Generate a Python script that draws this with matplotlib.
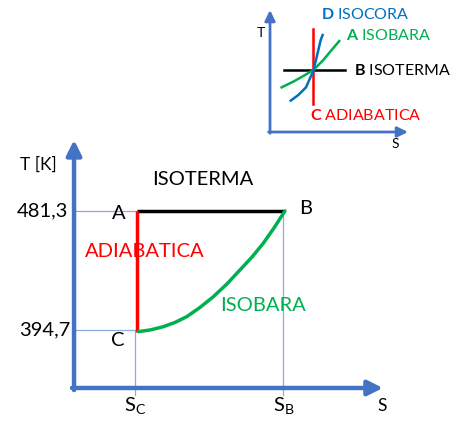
import numpy as np
import matplotlib.pyplot as plt

plt.rcParams['font.family'] = ['Lato', 'DejaVu Sans']
plt.rcParams['mathtext.fontset'] = 'custom'
plt.rcParams['mathtext.rm'] = 'Lato'
plt.rcParams['mathtext.bf'] = 'Lato:bold'

# colori
blu_assi = '#4472C4'
blu_guida = '#8FAADC'
verde = '#00B050'
rosso = '#FF0000'
blu_isocora = '#0070C0'

# stati del ciclo (diagramma T-S)
T_A = 481.3      # K
T_C = 394.7      # K
S_C = 1.0        # unita' arbitrarie
S_B = 2.0
S_adiab = [1.015, 1.015]
T_adiab = [393.5, 481.3]
S_isot = [1.015, 2.011]
T_isot = [481.3, 481.3]

# isobara C -> B
S_isob = [1.022, 1.101, 1.191, 1.270, 1.349, 1.438, 1.528, 1.620, 1.708, 1.789, 1.865, 1.937, 2.011]
T_isob = [393.5, 394.7, 397.1, 400.2, 404.4, 411.1, 418.9, 428.2, 438.4, 447.8, 457.8, 468.9, 481.3]

# assi del diagramma principale
S_orig, T_orig = 0.589, 352.5
S_tip, T_tip = 2.672, 533.0
T_fondo = 347.4

# inset schematico (unita' normalizzate)
u_isot = [0.10, 0.536]
v_isot = [0.508, 0.508]
u_adiab = [0.307, 0.307]
v_adiab = [0.23, 0.844]
u_isob = [0.083, 0.167, 0.238, 0.310, 0.381, 0.440, 0.495]
v_isob = [0.366, 0.413, 0.459, 0.508, 0.590, 0.672, 0.746]
u_isoc = [0.148, 0.202, 0.257, 0.310, 0.340, 0.362, 0.376]
v_isoc = [0.257, 0.303, 0.366, 0.503, 0.645, 0.754, 0.795]

fig = plt.figure(figsize=(4.51, 4.23), dpi=100)
ax = fig.add_axes([0, 0, 1, 1])
ax.set_xlim(0.0897, 3.131)
ax.set_ylim(327.02, 634.86)
ax.axis('off')

freccia = dict(arrowstyle='-|>,head_length=0.5,head_width=0.25', lw=3.2,
               color=blu_assi, shrinkA=0, shrinkB=0, mutation_scale=18)
ax.annotate('', xy=(S_tip, T_orig), xytext=(0.575, T_orig), arrowprops=freccia)
ax.annotate('', xy=(S_orig, T_tip), xytext=(S_orig, 351.0), arrowprops=freccia)

# linee guida
kw = dict(color=blu_guida, lw=0.9)
ax.plot([S_orig, S_adiab[0]], [T_A, T_A], **kw)
ax.plot([S_orig, S_C], [T_C, T_C], **kw)
ax.plot([S_C, S_C], [T_C, T_fondo], **kw)
ax.plot([S_B, S_B], [T_A, T_fondo], **kw)

ax.plot(S_isot, T_isot, color='black', lw=2.5, solid_capstyle='butt')
ax.plot(S_adiab, T_adiab, color=rosso, lw=2.5, solid_capstyle='butt')
ax.plot(S_isob, T_isob, color=verde, lw=2.5, solid_capstyle='round')

fs = 14.5
ax.text(0.346, 514.8, 'T [K]', fontsize=12.5, ha='center', va='center')
ax.text(0.548, T_A, '481,3', fontsize=fs, ha='right', va='center')
ax.text(0.562, T_C, '394,7', fontsize=fs, ha='right', va='center')
ax.text(0.889, 479.8, 'A', fontsize=fs, ha='center', va='center')
ax.text(2.153, 482.8, 'B', fontsize=fs, ha='center', va='center')
ax.text(0.885, 386.7, 'C', fontsize=fs, ha='center', va='center')
ax.text(1.455, 503.9, 'ISOTERMA', fontsize=fs, ha='center', va='center')
ax.text(1.067, 451.7, 'ADIABATICA', fontsize=fs, color=rosso, ha='center', va='center')
ax.text(1.860, 412.2, 'ISOBARA', fontsize=fs, color=verde, ha='center', va='center')
ax.text(S_C, 335.0, r'S$_\mathrm{C}$', fontsize=fs, ha='center', va='baseline')
ax.text(S_B, 335.0, r'S$_\mathrm{B}$', fontsize=fs, ha='center', va='baseline')
ax.text(2.669, 339.4, 'S', fontsize=12.5, ha='center', va='center')

# inset
ax2 = fig.add_axes([250 / 451, (423 - 150) / 423, 201 / 451, 150 / 423])
ax2.set_xlim(-0.1429, 1.293)
ax2.set_ylim(-0.1475, 1.082)
ax2.axis('off')

freccia2 = dict(arrowstyle='-|>,head_length=0.45,head_width=0.22', lw=2.0,
                color=blu_assi, shrinkA=0, shrinkB=0, mutation_scale=14)
ax2.annotate('', xy=(0.986, 0), xytext=(-0.01, 0), arrowprops=freccia2)
ax2.annotate('', xy=(0, 1.0), xytext=(0, -0.01), arrowprops=freccia2)

ax2.plot(u_isot, v_isot, color='black', lw=1.8)
ax2.plot(u_adiab, v_adiab, color=rosso, lw=1.8)
ax2.plot(u_isob, v_isob, color=verde, lw=1.8)
ax2.plot(u_isoc, v_isoc, color=blu_isocora, lw=1.8)

fs2 = 11.5
ax2.text(-0.064, 0.811, 'T', fontsize=10, ha='center', va='center')
ax2.text(0.893, -0.098, 'S', fontsize=10, ha='center', va='center')
ax2.text(0.362, 0.967, r'$\mathbf{D}$ ISOCORA', fontsize=fs2, color=blu_isocora, ha='left', va='center')
ax2.text(0.543, 0.795, r'$\mathbf{A}$ ISOBARA', fontsize=fs2, color=verde, ha='left', va='center')
ax2.text(0.600, 0.508, r'$\mathbf{B}$ ISOTERMA', fontsize=fs2, color='black', ha='left', va='center')
ax2.text(0.286, 0.139, r'$\mathbf{C}$ ADIABATICA', fontsize=fs2, color=rosso, ha='left', va='center')

fig.savefig('out.png', dpi=100)
